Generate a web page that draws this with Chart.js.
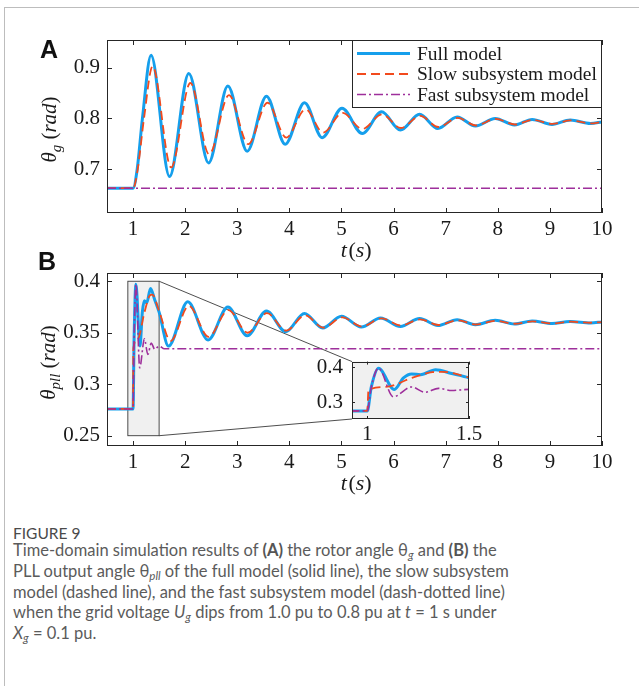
<!DOCTYPE html>
<html><head><meta charset="utf-8">
<script src="https://cdn.jsdelivr.net/npm/chart.js@4/dist/chart.umd.min.js"></script>
<style>
html,body{margin:0;padding:0;background:#fff;}
body{width:639px;height:686px;position:relative;overflow:hidden;}
#frame{position:absolute;left:4px;top:7px;width:800px;height:900px;border-left:1px solid #bdbdbd;border-top:1px solid #bdbdbd;}
canvas{position:absolute;}
.plabel{position:absolute;font-family:"Liberation Sans",Arial,sans-serif;font-weight:bold;font-size:25px;line-height:25px;color:#111;}
.cap{position:absolute;left:13px;font-family:Lato,"Open Sans",sans-serif;color:#5b5b5b;white-space:nowrap;}
#fig{top:523px;font-size:15.5px;line-height:20px;color:#4a4a4a;}
#txt{top:540px;font-size:16.5px;line-height:20.8px;}
.cap sub{font-size:70%;line-height:0;vertical-align:-0.3em;}
.cap b{font-weight:bold;color:#555;}
</style></head>
<body>
<div id="frame"></div>
<canvas id="cA" width="639" height="265"></canvas>
<canvas id="cB" width="639" height="260"></canvas>
<canvas id="cI" width="200" height="115"></canvas>
<div class="plabel" style="left:40px;top:37px">A</div>
<div class="plabel" style="left:38px;top:249px">B</div>
<div class="cap" id="fig">FIGURE 9</div>
<div class="cap" id="txt">Time-domain simulation results of <b>(A)</b> the rotor angle θ<sub><i>g</i></sub> and <b>(B)</b> the<br>PLL output angle θ<sub><i>pll</i></sub> of the full model (solid line), the slow subsystem<br>model (dashed line), and the fast subsystem model (dash-dotted line)<br>when the grid voltage <i>U</i><sub><i>g</i></sub> dips from 1.0 pu to 0.8 pu at <i>t</i> = 1 s under<br><i>X</i><sub><i>g</i></sub> = 0.1 pu.</div>
<script>
// ---------------- data ----------------
const seriesNames = ['Full model', 'Slow subsystem model', 'Fast subsystem model'];
const xTicks = [1, 2, 3, 4, 5, 6, 7, 8, 9, 10];
const xRange = [0.5, 10];
const yTicksA = [0.7, 0.8, 0.9];
const yRangeA = [0.613, 0.955];
const yTicksB = [0.25, 0.3, 0.35, 0.4];
const yRangeB = [0.24, 0.408];
const xTicksInset = [1, 1.5];
const xRangeInset = [0.925, 1.5];
const yTicksInset = [0.3, 0.4];
const yRangeInset = [0.253, 0.416];
const zoomBoxT = [0.9, 1.5];
const zoomBoxY = [0.25, 0.4];

// Panel A: rotor angle theta_g
const tFullA = [0.5, 1.0, 1.08, 1.18, 1.345, 1.70, 2.07, 2.45, 2.82, 3.19, 3.56, 3.92, 4.29, 4.63, 5.01, 5.40, 5.77, 6.13, 6.50, 6.85, 7.22, 7.57, 7.95, 8.32, 8.66, 9.04, 9.39, 9.78, 10.0];
const yFullA = [0.662, 0.662, 0.700, 0.800, 0.925, 0.685, 0.889, 0.712, 0.864, 0.735, 0.844, 0.749, 0.831, 0.762, 0.820, 0.770, 0.813, 0.777, 0.808, 0.780, 0.803, 0.785, 0.800, 0.787, 0.798, 0.788, 0.797, 0.790, 0.793];
const tSlowA = [0.5, 1.0, 1.09, 1.21, 1.375, 1.73, 2.10, 2.46, 2.84, 3.21, 3.58, 3.94, 4.31, 4.65, 5.02, 5.40, 5.78, 6.14, 6.51, 6.86, 7.23, 7.58, 7.96, 8.33, 8.67, 9.05, 9.40, 9.78, 10.0];
const ySlowA = [0.662, 0.662, 0.700, 0.800, 0.903, 0.703, 0.870, 0.729, 0.846, 0.749, 0.831, 0.762, 0.818, 0.772, 0.811, 0.779, 0.808, 0.781, 0.805, 0.783, 0.801, 0.786, 0.799, 0.788, 0.797, 0.789, 0.796, 0.790, 0.793];
const tFastA = [0.5, 10.0];
const yFastA = [0.662, 0.662];

// Panel B: PLL output angle theta_pll
const tFullB = [0.5, 1.0, 1.02, 1.055, 1.133, 1.178, 1.218, 1.262, 1.336, 1.415, 1.5, 1.68, 2.05, 2.44, 2.82, 3.19, 3.56, 3.93, 4.29, 4.64, 5.0, 5.38, 5.75, 6.13, 6.50, 6.85, 7.22, 7.57, 7.95, 8.32, 8.66, 9.04, 9.39, 9.78, 10.0];
const yFullB = [0.276, 0.276, 0.344, 0.397, 0.337, 0.370, 0.381, 0.379, 0.393, 0.382, 0.370, 0.337, 0.380, 0.343, 0.375, 0.347, 0.371, 0.351, 0.3686, 0.3546, 0.366, 0.3555, 0.3644, 0.356, 0.3637, 0.357, 0.3627, 0.3578, 0.362, 0.3585, 0.3615, 0.359, 0.361, 0.3595, 0.3605];
const tSlowB = [0.5, 1.0, 1.006, 1.09, 1.22, 1.32, 1.37, 1.5, 1.72, 2.07, 2.45, 2.83, 3.20, 3.57, 3.94, 4.30, 4.65, 5.02, 5.39, 5.77, 6.14, 6.51, 6.86, 7.23, 7.58, 7.96, 8.33, 8.67, 9.05, 9.40, 9.78, 10.0];
const ySlowB = [0.276, 0.276, 0.335, 0.344, 0.370, 0.386, 0.387, 0.371, 0.342, 0.376, 0.346, 0.372, 0.350, 0.369, 0.352, 0.367, 0.355, 0.365, 0.356, 0.364, 0.357, 0.363, 0.3575, 0.362, 0.358, 0.3615, 0.3587, 0.361, 0.359, 0.3607, 0.3597, 0.3603];
const tFastB = [0.5, 1.0, 1.02, 1.055, 1.128, 1.218, 1.284, 1.35, 1.415, 1.5, 1.6, 10.0];
const yFastB = [0.276, 0.276, 0.344, 0.397, 0.316, 0.344, 0.329, 0.340, 0.334, 0.337, 0.3344, 0.3344];

// ---------------- styles ----------------
const lineStyles = [
  {borderColor: '#159FEC', borderWidth: 3, borderDash: [], order: 3},
  {borderColor: '#F24A1D', borderWidth: 1.8, borderDash: [9, 5], order: 2},
  {borderColor: '#9E2F9B', borderWidth: 1.6, borderDash: [9, 3, 2, 3], order: 1}
];
const SERIF = '"Liberation Serif","Times New Roman",serif';
const tickFont = {family: SERIF, size: 21};
const axisColor = '#262626';
const posA = {left: 0, top: 0}, posB = {left: 0, top: 250}, posI = {left: 290, top: 340};

function pts(t, y) { return t.map((v, i) => ({x: v, y: y[i]})); }
function mkSets(groups) {
  return groups.map((g, i) => Object.assign({
    label: seriesNames[i], data: pts(g[0], g[1]), pointRadius: 0, fill: false,
    cubicInterpolationMode: 'monotone', borderCapStyle: 'butt', borderJoinStyle: 'round'
  }, lineStyles[i]));
}
function mkScales(xr, yr, xt, yt, yWidth, xHeight, xPad, yPad) {
  return {
    x: {type: 'linear', min: xr[0], max: xr[1],
        afterBuildTicks: s => { s.ticks = xt.map(v => ({value: v})); },
        afterFit: s => { s.height = xHeight; },
        grid: {display: false, drawTicks: false}, border: {display: false},
        ticks: {font: tickFont, color: '#1a1a1a', padding: xPad, maxRotation: 0, autoSkip: false, callback: v => String(v)}},
    y: {type: 'linear', min: yr[0], max: yr[1],
        afterBuildTicks: s => { s.ticks = yt.map(v => ({value: v})); },
        afterFit: s => { s.width = yWidth; },
        grid: {display: false, drawTicks: false}, border: {display: false},
        ticks: {font: tickFont, color: '#1a1a1a', padding: yPad, autoSkip: false, callback: v => String(v)}}
  };
}

let insetChart = null;

const matlabPlugin = {
  id: 'mat',
  beforeDatasetsDraw(chart, args, o) {
    const ctx = chart.ctx, a = chart.chartArea, xs = chart.scales.x, ys = chart.scales.y;
    ctx.save();
    if (o.bg) { ctx.fillStyle = o.bg; ctx.fillRect(a.left, a.top, a.width, a.height); }
    if (o.zoom && insetChart) {
      const x0 = xs.getPixelForValue(zoomBoxT[0]), x1 = xs.getPixelForValue(zoomBoxT[1]);
      const y0 = ys.getPixelForValue(zoomBoxY[1]), y1 = ys.getPixelForValue(zoomBoxY[0]);
      ctx.fillStyle = '#F0F0F0';
      ctx.fillRect(x0, y0, x1 - x0, y1 - y0);
      ctx.strokeStyle = '#3a3a3a'; ctx.lineWidth = 0.9;
      ctx.strokeRect(x0, y0, x1 - x0, y1 - y0);
      const ia = insetChart.chartArea;
      const ix = ia.left + posI.left - posB.left;
      const iyT = ia.top + posI.top - posB.top, iyB = ia.bottom + posI.top - posB.top;
      ctx.beginPath();
      ctx.moveTo(x1, y0); ctx.lineTo(ix, iyT);
      ctx.moveTo(x1, y1); ctx.lineTo(ix, iyB);
      ctx.stroke();
    }
    ctx.restore();
  },
  afterDatasetsDraw(chart, args, o) {
    const ctx = chart.ctx, a = chart.chartArea, xs = chart.scales.x, ys = chart.scales.y;
    const L = o.tick || 5;
    ctx.save();
    ctx.strokeStyle = axisColor; ctx.lineWidth = 1;
    ctx.strokeRect(Math.round(a.left) + 0.5, Math.round(a.top) + 0.5, Math.round(a.width) - 1, Math.round(a.height) - 1);
    ctx.beginPath();
    xs.ticks.forEach(t => {
      const p = Math.round(xs.getPixelForValue(t.value)) + 0.5;
      ctx.moveTo(p, a.bottom); ctx.lineTo(p, a.bottom - L);
      ctx.moveTo(p, a.top); ctx.lineTo(p, a.top + L);
    });
    ys.ticks.forEach(t => {
      const p = Math.round(ys.getPixelForValue(t.value)) + 0.5;
      ctx.moveTo(a.left, p); ctx.lineTo(a.left + L, p);
      ctx.moveTo(a.right, p); ctx.lineTo(a.right - L, p);
    });
    ctx.stroke();
    if (o.legend) {
      const bx = a.right - 250, by = a.top, bw = 250, bh = 68;
      ctx.fillStyle = '#fff'; ctx.fillRect(bx, by, bw, bh);
      ctx.strokeStyle = axisColor; ctx.strokeRect(Math.round(bx) + 0.5, Math.round(by) + 0.5, bw - 1, bh - 1);
      ctx.font = '19.5px ' + SERIF; ctx.textBaseline = 'middle'; ctx.textAlign = 'left';
      chart.data.datasets.forEach((d, i) => {
        const yy = by + 13.5 + i * 20.5;
        ctx.save();
        ctx.strokeStyle = d.borderColor; ctx.lineWidth = d.borderWidth; ctx.setLineDash(d.borderDash || []);
        ctx.beginPath(); ctx.moveTo(bx + 5, yy); ctx.lineTo(bx + 58, yy); ctx.stroke();
        ctx.restore();
        ctx.fillStyle = '#1a1a1a';
        ctx.fillText(d.label, bx + 65, yy + 1);
      });
    }
  },
  afterDraw(chart, args, o) {
    const ctx = chart.ctx, a = chart.chartArea;
    ctx.save();
    ctx.fillStyle = '#1a1a1a'; ctx.textBaseline = 'alphabetic'; ctx.textAlign = 'left';
    if (o.ysym) {
      const big = 'italic 21px ' + SERIF, small = 'italic 15px ' + SERIF, up = '21px ' + SERIF;
      const parts = [[o.ysym, big, 0], [o.ysub, small, 5], [' (', up, 0], ['rad', big, 0], [')', up, 0]];
      let tot = 0; const ws = parts.map(p => { ctx.font = p[1]; const w = ctx.measureText(p[0]).width; tot += w; return w; });
      ctx.translate(o.ybase, (a.top + a.bottom) / 2 + 3);
      ctx.rotate(-Math.PI / 2);
      let x = -tot / 2;
      parts.forEach((p, i) => { ctx.font = p[1]; ctx.fillText(p[0], x, p[2]); x += ws[i]; });
      ctx.setTransform(1, 0, 0, 1, 0, 0);
    }
    if (o.xtitle) {
      const it = 'italic 22px ' + SERIF, up = '22px ' + SERIF;
      const parts = [['t', it], ['(', up], ['s', it], [')', up]];
      let tot = 0; const ws = parts.map(p => { ctx.font = p[1]; const w = ctx.measureText(p[0]).width; tot += w; return w; });
      let x = (a.left + a.right) / 2 - tot / 2 + 1;
      const yb = a.bottom + 44;
      parts.forEach((p, i) => { ctx.font = p[1]; ctx.fillText(p[0], x, yb); x += ws[i] + (i === 0 ? 1.5 : 0); });
    }
    ctx.restore();
  }
};

function place(id, pos) { const c = document.getElementById(id); c.style.left = pos.left + 'px'; c.style.top = pos.top + 'px'; return c; }

const baseOpts = {responsive: false, animation: false, events: [], devicePixelRatio: 1,
  plugins: {legend: {display: false}, tooltip: {enabled: false}}};

// Panel A
new Chart(place('cA', posA), {
  type: 'line',
  data: {datasets: mkSets([[tFullA, yFullA], [tSlowA, ySlowA], [tFastA, yFastA]])},
  options: Object.assign({}, baseOpts, {
    layout: {padding: {left: 0, right: 37, top: 40, bottom: 0}},
    scales: mkScales(xRange, yRangeA, xTicks, yTicksA, 107, 52, 4, 7),
    plugins: Object.assign({}, baseOpts.plugins, {mat: {legend: true, ysym: 'θ', ysub: 'g', ybase: 56, xtitle: true, tick: 5}})
  }),
  plugins: [matlabPlugin]
});

// Inset (drawn first so its position is known)
insetChart = new Chart(place('cI', posI), {
  type: 'line',
  data: {datasets: mkSets([[tFullB, yFullB], [tSlowB, ySlowB], [tFastB, yFastB]])},
  options: Object.assign({}, baseOpts, {
    layout: {padding: {left: 0, right: 21, top: 15, bottom: 0}},
    scales: mkScales(xRangeInset, yRangeInset, xTicksInset, yTicksInset, 62, 36, 3, 9),
    plugins: Object.assign({}, baseOpts.plugins, {mat: {bg: '#F0F0F0', tick: 3}})
  }),
  plugins: [matlabPlugin]
});

// Panel B
new Chart(place('cB', posB), {
  type: 'line',
  data: {datasets: mkSets([[tFullB, yFullB], [tSlowB, ySlowB], [tFastB, yFastB]])},
  options: Object.assign({}, baseOpts, {
    layout: {padding: {left: 0, right: 37, top: 23, bottom: 0}},
    scales: mkScales(xRange, yRangeB, xTicks, yTicksB, 107, 64, 4, 7),
    plugins: Object.assign({}, baseOpts.plugins, {mat: {zoom: true, ysym: 'θ', ysub: 'pll', ybase: 55, xtitle: true, tick: 5}})
  }),
  plugins: [matlabPlugin]
});
</script>
</body></html>
